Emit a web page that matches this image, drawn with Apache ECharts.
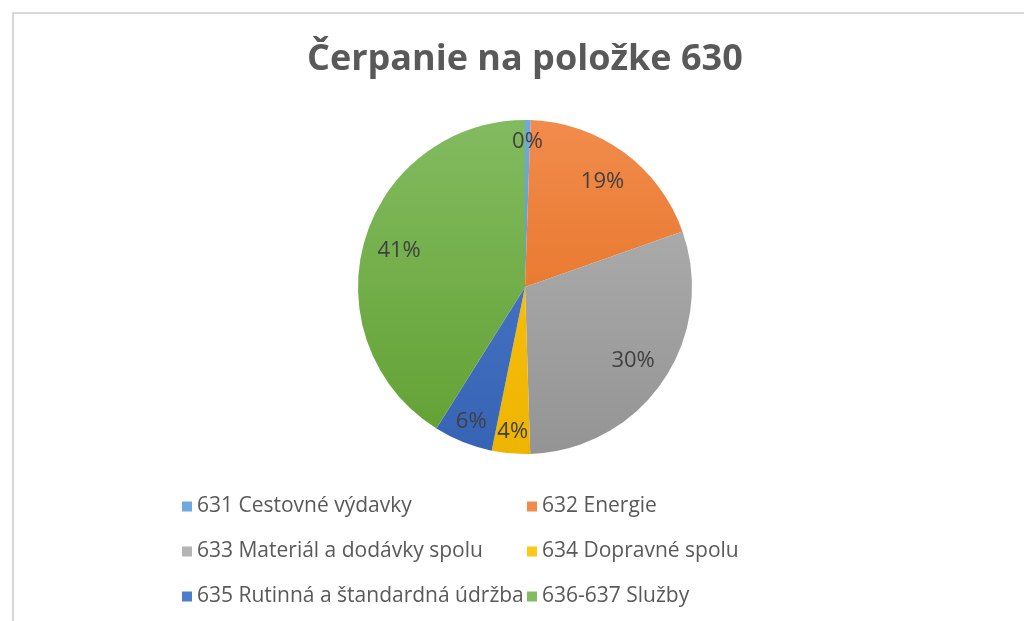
<!DOCTYPE html>
<html>
<head>
<meta charset="utf-8">
<script src="https://cdn.jsdelivr.net/npm/echarts@6/dist/echarts.min.js"></script>
<style>
html,body{margin:0;padding:0;background:#fff;}
#chart{width:1024px;height:621px;}
</style>
</head>
<body>
<div id="chart"></div>
<script>
const titleText = 'Čerpanie na položke 630';
const categories = ['631 Cestovné výdavky','632 Energie','633 Materiál a dodávky spolu','634 Dopravné spolu','635 Rutinná a štandardná údržba','636-637 Služby'];
const values = [0.55, 19.05, 29.9, 3.7, 5.7, 41.1];
const colorsTop = ['#6FA9DE','#F18B4C','#B4B4B4','#FFC718','#4E7DCC','#82BB60'];
const colorsBottom = ['#4F8FCC','#E26A16','#949494','#EDB400','#3763B5','#62A032'];
const leftLegend = [categories[0], categories[2], categories[4]];
const rightLegend = [categories[1], categories[3], categories[5]];

const FONT = '"Open Sans", "Noto Sans", sans-serif';
const cx = 525, cy = 287, R = 167;

function grad(i){
  return new echarts.graphic.LinearGradient(0, cy - R, 0, cy + R, [
    {offset:0, color: colorsTop[i]},
    {offset:1, color: colorsBottom[i]}
  ], true);
}

const pieData = categories.map((n,i)=>({name:n, value:values[i], itemStyle:{color:grad(i)}}));
// large slices get labels on an inner ring, small slices nearer the rim
const labelsLarge = categories.map((n,i)=>({name:n, value:values[i], label:{show: values[i] >= 10}}));
const labelsSmall = categories.map((n,i)=>({name:n, value:values[i], label:{show: values[i] < 10}}));

const labelStyle = {show:true, position:'inside', formatter:'{d}%', fontFamily:FONT, fontSize:22, color:'#404040'};

const chart = echarts.init(document.getElementById('chart'), null, {renderer:'canvas'});
const legendCommon = {
  orient:'vertical', top:496, padding:0, itemWidth:10, itemHeight:10, itemGap:24,
  icon:'rect', selectedMode:false,
  textStyle:{fontFamily:FONT, fontSize:21, color:'#595959', lineHeight:21}
};
chart.setOption({
  backgroundColor:'#ffffff',
  animation:false,
  color: colorsTop,
  title:{
    text: titleText, left:307, top:42, padding:0,
    textStyle:{fontFamily:FONT, fontSize:36, fontWeight:'bold', color:'#595959'}
  },
  legend:[
    Object.assign({left:182, data:leftLegend}, legendCommon),
    Object.assign({left:527, data:rightLegend}, legendCommon)
  ],
  graphic:[
    {type:'line', shape:{x1:12, y1:13, x2:1024, y2:13}, style:{stroke:'#d9d9d9', lineWidth:2}, silent:true},
    {type:'line', shape:{x1:13, y1:13, x2:13, y2:621}, style:{stroke:'#d9d9d9', lineWidth:2}, silent:true}
  ],
  series:[
    {
      type:'pie', center:[cx,cy], radius:[0,R], startAngle:90, clockwise:true,
      label:{show:false}, labelLine:{show:false}, silent:true,
      itemStyle:{borderWidth:0},
      data: pieData
    },
    {
      type:'pie', center:[cx,cy], radius:[89,R], startAngle:90, clockwise:true,
      silent:true, percentPrecision:0,
      itemStyle:{color:'rgba(0,0,0,0)', borderWidth:0},
      label: labelStyle, labelLine:{show:false},
      data: labelsLarge
    },
    {
      type:'pie', center:[cx,cy], radius:[117,R], startAngle:90, clockwise:true,
      silent:true, percentPrecision:0,
      itemStyle:{color:'rgba(0,0,0,0)', borderWidth:0},
      label: labelStyle, labelLine:{show:false},
      data: labelsSmall
    }
  ]
});
</script>
</body>
</html>
